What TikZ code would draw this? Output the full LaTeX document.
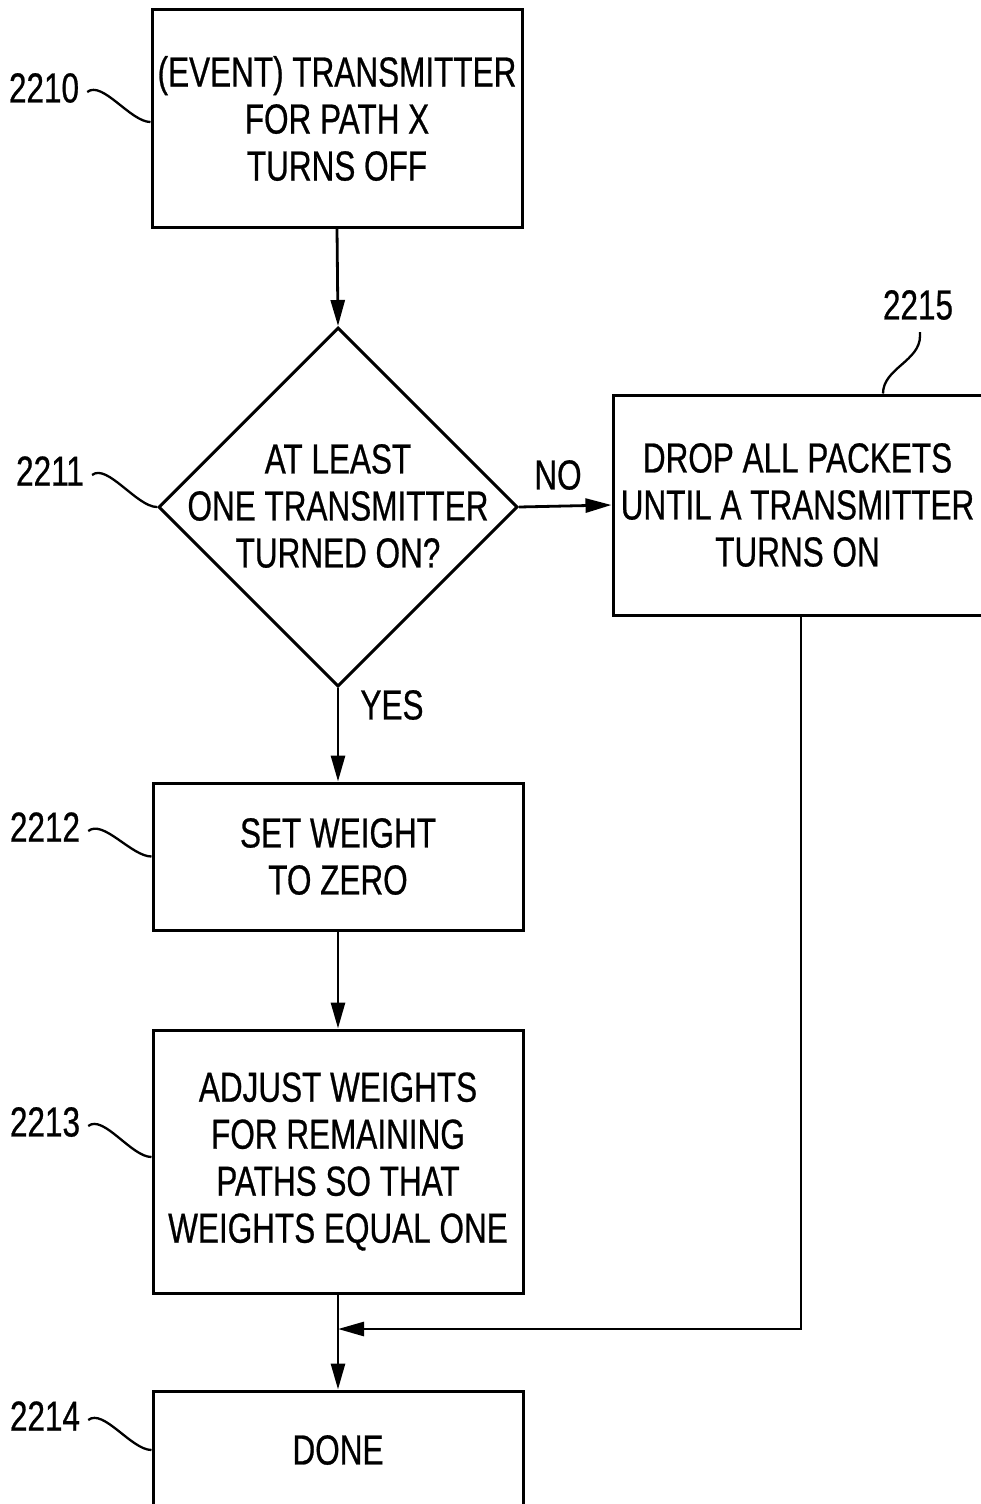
\documentclass[tikz,border=0pt]{standalone}
\usepackage{fontspec}
\setmainfont{Liberation Sans}[FakeStretch=0.75,FakeBold=0.6]
\usetikzlibrary{shapes.geometric,arrows.meta,calc}
\tikzset{
  boxnode/.style={draw, line width=3pt, rectangle, inner sep=0pt, align=center, font=\fontsize{42}{47}\selectfont},
  txt/.style={inner sep=0pt, align=center, font=\fontsize{42}{47}\selectfont},
  flow/.style={line width=2.8pt, -{Triangle[length=26pt,width=14pt]}},
  leader/.style={line width=2.3pt}
}
\begin{document}
\begin{tikzpicture}[x=1pt,y=-1pt]
\useasboundingbox (0,0) rectangle (981,1504);
% boxes
\node[boxnode, minimum width=370, minimum height=217] (b2210) at (337,118.5) {(EVENT) TRANSMITTER\\FOR PATH X\\TURNS OFF};
\node[diamond, draw, line width=3pt, inner sep=0pt, minimum width=359, minimum height=359] (d2211) at (338,507) {};
\node[txt] (d2211t) at (338,506) {AT LEAST\\ONE TRANSMITTER\\TURNED ON?};
\node[boxnode, minimum width=369, minimum height=220] (b2215) at (797.5,505) {DROP ALL PACKETS\\UNTIL A TRANSMITTER\\TURNS ON};
\node[boxnode, minimum width=370, minimum height=147] (b2212) at (338,856.5) {SET WEIGHT\\TO ZERO};
\node[boxnode, minimum width=370, minimum height=263] (b2213) at (338,1161.5) {ADJUST WEIGHTS\\FOR REMAINING\\PATHS SO THAT\\WEIGHTS EQUAL ONE};
\node[boxnode, minimum width=370, minimum height=118] (b2214) at (338,1450) {DONE};
% reference labels
\node[txt] (l2210) at (44,88) {2210};
\node[txt] (l2211) at (50,471) {2211};
\node[txt] (l2215) at (918,305) {2215};
\node[txt] (l2212) at (45,827) {2212};
\node[txt] (l2213) at (45,1122) {2213};
\node[txt] (l2214) at (45,1416) {2214};
% branch labels
\node[txt] (no) at (558,475) {NO};
\node[txt] (yes) at (392,705) {YES};
% connectors
\draw[flow] (b2210.south) -- (d2211.north);
\draw[flow] (d2211.east) -- (b2215.west);
\draw[flow] (d2211.south) -- (b2212.north);
\draw[flow] (b2212.south) -- (b2213.north);
\draw[flow] (b2213.south) -- (b2214.north);
\coordinate (j) at (338,1329);
\coordinate (rc) at (801,1329);
\draw[flow] (b2215.south -| rc) -- (rc) -- (j);
% leaders
\draw[leader] ($(l2210.east)+(8,4)$) .. controls +(15,-12) and +(-20,0) .. (b2210.west |- 0,122);
\draw[leader] ($(l2211.east)+(8,4)$) .. controls +(15,-12) and +(-20,0) .. (d2211.west);
\draw[leader] ($(l2212.east)+(8,4)$) .. controls +(15,-12) and +(-20,0) .. (b2212.west);
\draw[leader] ($(l2213.east)+(8,4)$) .. controls +(15,-12) and +(-20,0) .. (b2213.west |- 0,1157);
\draw[leader] ($(l2214.east)+(8,4)$) .. controls +(15,-12) and +(-20,0) .. (b2214.west);
\coordinate (t2215) at (920,336);
\draw[leader] (b2215.north -| 883,0) .. controls +(0,-25) and +(0,25) .. (t2215) -- ++(0,-4);
\end{tikzpicture}
\end{document}
